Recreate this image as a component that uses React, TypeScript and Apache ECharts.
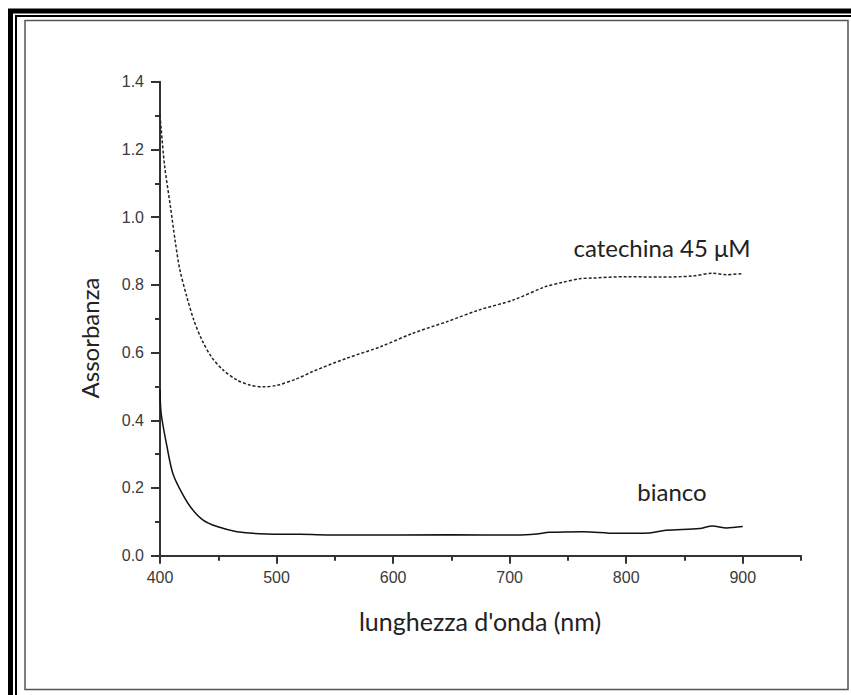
import React, { useEffect, useRef } from "react";
import * as echarts from "echarts";

// Absorbance spectra (wavelength in nm, absorbance)
const catechinaNm = [400, 401, 404, 409, 413, 417, 423, 429, 436, 444, 454, 466, 477, 489, 500, 517, 531, 560, 589, 617, 646, 674, 703, 731, 745, 760, 771, 800, 829, 857, 874, 886, 899];
const catechinaAbs = [1.30, 1.26, 1.15, 1.03, 0.93, 0.845, 0.765, 0.696, 0.637, 0.588, 0.549, 0.519, 0.504, 0.499, 0.503, 0.522, 0.544, 0.583, 0.617, 0.657, 0.691, 0.726, 0.755, 0.795, 0.807, 0.818, 0.820, 0.824, 0.823, 0.826, 0.834, 0.830, 0.833];

const biancoNm = [400, 401, 406, 411, 419, 427, 437, 449, 466, 491, 520, 563, 649, 706, 723, 734, 763, 791, 820, 834, 863, 874, 886, 900];
const biancoAbs = [0.49, 0.42, 0.322, 0.243, 0.184, 0.140, 0.105, 0.086, 0.071, 0.064, 0.063, 0.061, 0.062, 0.061, 0.064, 0.069, 0.071, 0.066, 0.067, 0.075, 0.080, 0.088, 0.082, 0.086];

const xTitle = "lunghezza d'onda (nm)";
const yTitle = "Assorbanza";
const catechinaLabel = "catechina 45 \u03bcM";
const biancoLabel = "bianco";

const tickFont = "'Liberation Sans', Arial, sans-serif";
const titleFont = "Lato, 'Open Sans', sans-serif";

export default function App() {
  const ref = useRef<HTMLDivElement>(null);

  useEffect(() => {
    if (!ref.current) return;
    const chart = echarts.init(ref.current, null, { renderer: "svg" });
    const axisColor = "#333";

    chart.setOption({
      animation: false,
      backgroundColor: "#fff",
      grid: { left: 160, right: 50, top: 81.7, bottom: 139.3, containLabel: false },
      xAxis: [
        {
          type: "value",
          min: 400,
          max: 950,
          interval: 100,
          axisLine: { show: true, onZero: false, lineStyle: { color: axisColor, width: 2 } },
          axisTick: { show: true, length: 8, lineStyle: { color: axisColor, width: 2 } },
          minorTick: { show: false },
          splitLine: { show: false },
          axisLabel: {
            show: true,
            showMaxLabel: false,
            margin: 14,
            color: "#3a3a3a",
            fontSize: 16,
            fontFamily: tickFont,
          },
        },
        {
          // minor ticks every 50 nm
          type: "value",
          min: 400,
          max: 950,
          interval: 50,
          axisLine: { show: false },
          axisTick: { show: true, length: 5, lineStyle: { color: axisColor, width: 2 } },
          axisLabel: { show: false },
          splitLine: { show: false },
          position: "bottom",
        },
      ],
      yAxis: {
        type: "value",
        min: 0,
        max: 1.4,
        interval: 0.2,
        axisLine: { show: true, lineStyle: { color: axisColor, width: 2 } },
        axisTick: { show: true, length: 9, lineStyle: { color: axisColor, width: 2 } },
        minorTick: { show: true, splitNumber: 2, length: 5, lineStyle: { color: axisColor, width: 2 } },
        splitLine: { show: false },
        minorSplitLine: { show: false },
        axisLabel: {
          margin: 16,
          color: "#3a3a3a",
          fontSize: 16,
          fontFamily: tickFont,
          formatter: (v: number) => v.toFixed(1),
        },
      },
      series: [
        {
          name: catechinaLabel,
          type: "line",
          xAxisIndex: 0,
          showSymbol: false,
          smooth: 0.3,
          data: catechinaNm.map((x, i) => [x, catechinaAbs[i]]),
          lineStyle: { color: "#222", width: 1.5, type: [3, 2] },
        },
        {
          name: biancoLabel,
          type: "line",
          xAxisIndex: 0,
          showSymbol: false,
          smooth: 0.3,
          data: biancoNm.map((x, i) => [x, biancoAbs[i]]),
          lineStyle: { color: "#111", width: 1.5 },
        },
      ],
      graphic: [
        // framed border
        { type: "rect", silent: true, shape: { x: 10.5, y: 11, width: 1200, height: 1000 }, style: { fill: "none", stroke: "#000", lineWidth: 5 } },
        { type: "rect", silent: true, shape: { x: 16, y: 16, width: 1200, height: 1000 }, style: { fill: "none", stroke: "#000", lineWidth: 2 } },
        { type: "rect", silent: true, shape: { x: 25, y: 20.5, width: 823, height: 669 }, style: { fill: "none", stroke: "#555", lineWidth: 1.5 } },
        // axis titles
        {
          type: "text",
          x: 480,
          y: 621,
          style: { text: xTitle, fill: "#222", font: `25px ${titleFont}`, align: "center", verticalAlign: "middle" },
        },
        {
          type: "text",
          x: 89,
          y: 338,
          rotation: Math.PI / 2,
          style: { text: yTitle, fill: "#222", font: `24px ${titleFont}`, align: "center", verticalAlign: "middle" },
        },
        // curve labels
        {
          type: "text",
          x: 662,
          y: 247,
          style: { text: catechinaLabel, fill: "#222", font: `24px ${titleFont}`, align: "center", verticalAlign: "middle" },
        },
        {
          type: "text",
          x: 672,
          y: 491,
          style: { text: biancoLabel, fill: "#222", font: `24px ${titleFont}`, align: "center", verticalAlign: "middle" },
        },
      ],
    });

    return () => chart.dispose();
  }, []);

  return (
    <div
      ref={ref}
      style={{ position: "fixed", left: 0, top: 0, width: 851, height: 695, background: "#fff" }}
    />
  );
}
